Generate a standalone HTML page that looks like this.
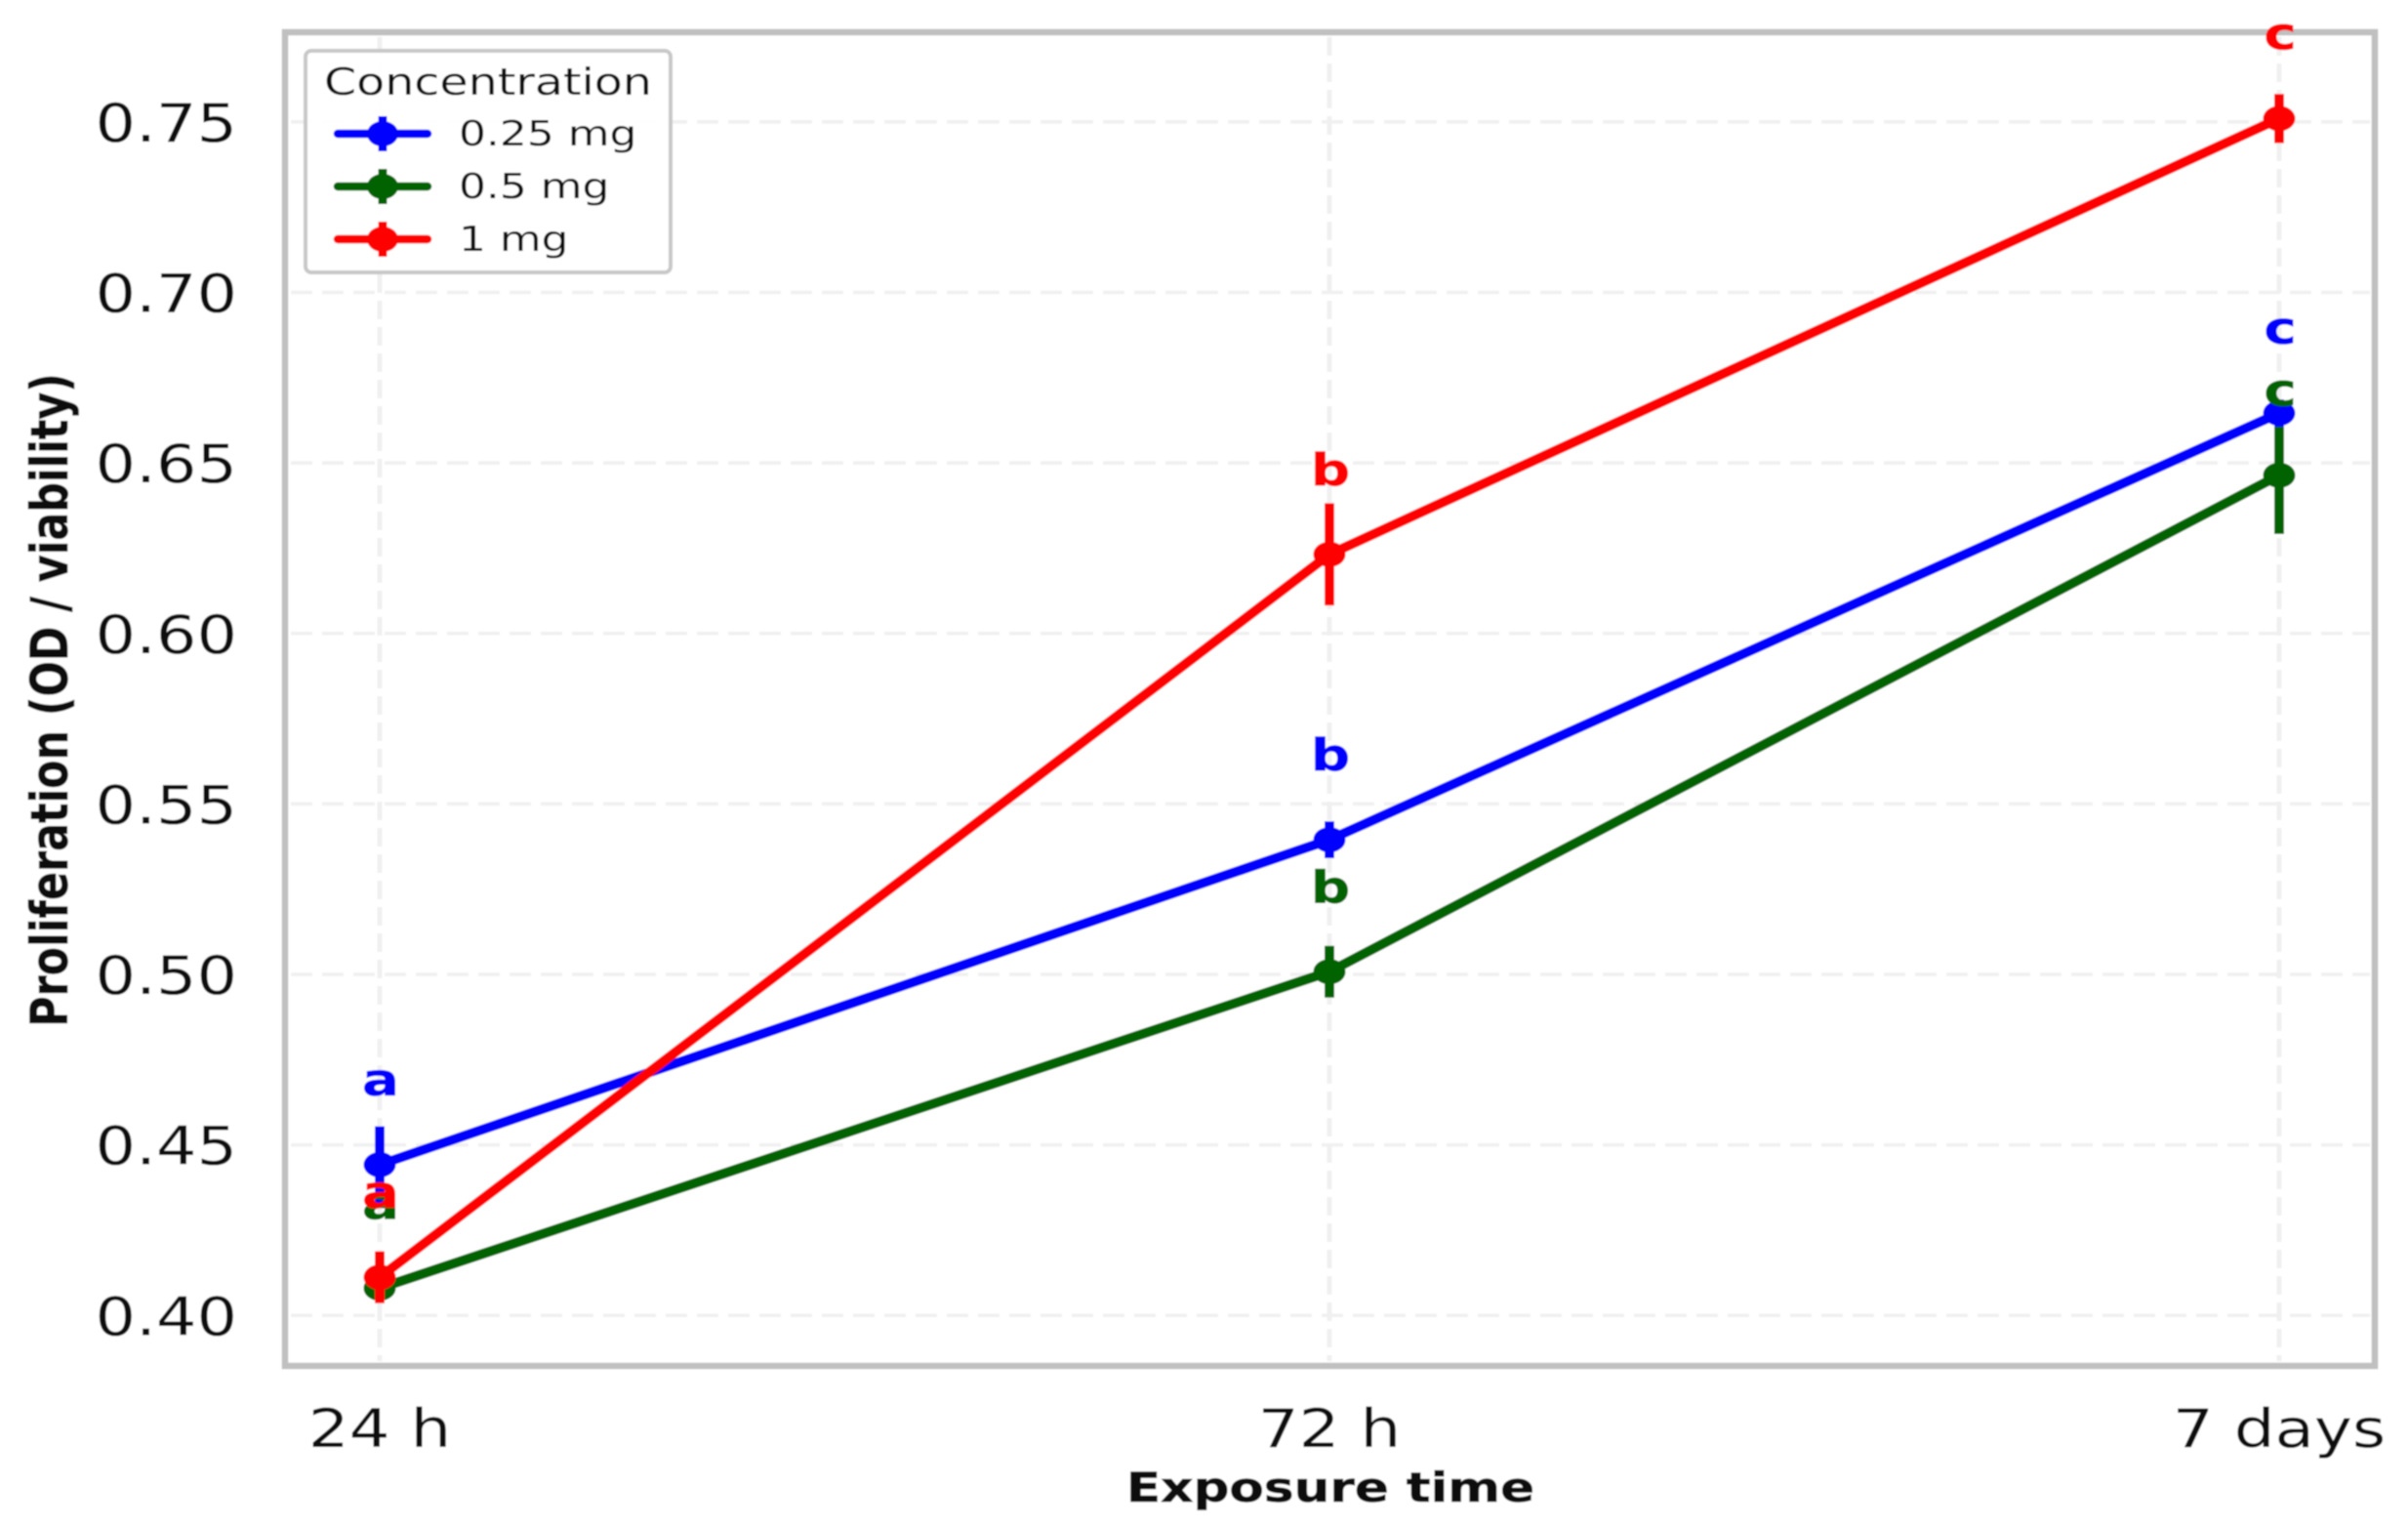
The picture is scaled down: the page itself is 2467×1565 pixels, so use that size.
<!DOCTYPE html>
<html lang="en">
<head>
<meta charset="utf-8">
<title>Proliferation vs exposure time</title>
<style>
html,body{margin:0;padding:0;background:#fff;width:2467px;height:1565px;overflow:hidden}
svg{display:block}
text{font-family:"DejaVu Sans","Liberation Sans",sans-serif}
</style>
</head>
<body>
<svg id="chart" xmlns="http://www.w3.org/2000/svg" width="2467" height="1565" viewBox="0 0 2467 1565">
  <defs><filter id="soft" x="0" y="0" width="100%" height="100%"><feGaussianBlur stdDeviation="0.7"/></filter></defs>
  <g id="root" filter="url(#soft)">
    <rect x="0" y="0" width="2467" height="1565" fill="#ffffff"/>
    <g id="grid"></g>
    <g id="series"></g>
    <rect x="292" y="33" width="2141" height="1366" fill="none" stroke="#c0c0c0" stroke-width="6.5"/>
    <g id="labels"></g>
    <g id="ticks"></g>
    <text transform="translate(1363,1538) scale(1.23,1)" text-anchor="middle" font-size="42" font-weight="bold" fill="#111" stroke="#111" stroke-width="0.6">Exposure time</text>
    <text transform="translate(69,717) scale(1.22,1) rotate(-90)" text-anchor="middle" font-size="42.8" font-weight="bold" fill="#111" stroke="#111" stroke-width="0.5">Proliferation (OD / viability)</text>
    <g>
      <rect x="313" y="52" width="374" height="227" rx="6" fill="#ffffff" fill-opacity="0.92" stroke="#c8c8c8" stroke-width="4"/>
      <text transform="translate(332,97) scale(1.25,1)" font-size="38" fill="#111">Concentration</text>
      <g>
        <line x1="346" y1="137" x2="438" y2="137" stroke="#0000ff" stroke-width="8.5" stroke-linecap="round"/>
        <line x1="392" y1="119" x2="392" y2="155" stroke="#0000ff" stroke-width="9"/>
        <ellipse cx="392" cy="137" rx="16" ry="13" fill="#0000ff"/>
        <text transform="translate(470,149) scale(1.22,1)" font-size="36" fill="#111">0.25 mg</text>
      </g>
      <g>
        <line x1="346" y1="191" x2="438" y2="191" stroke="#006400" stroke-width="8.5" stroke-linecap="round"/>
        <line x1="392" y1="173" x2="392" y2="209" stroke="#006400" stroke-width="9"/>
        <ellipse cx="392" cy="191" rx="16" ry="13" fill="#006400"/>
        <text transform="translate(470,203) scale(1.22,1)" font-size="36" fill="#111">0.5 mg</text>
      </g>
      <g>
        <line x1="346" y1="245" x2="438" y2="245" stroke="#ff0000" stroke-width="8.5" stroke-linecap="round"/>
        <line x1="392" y1="227" x2="392" y2="263" stroke="#ff0000" stroke-width="9"/>
        <ellipse cx="392" cy="245" rx="16" ry="13" fill="#ff0000"/>
        <text transform="translate(470,257) scale(1.22,1)" font-size="36" fill="#111">1 mg</text>
      </g>
    </g>
  </g>
</svg>
<script>
const categories = ['24 h', '72 h', '7 days'];
const yTicks = [0.40, 0.45, 0.50, 0.55, 0.60, 0.65, 0.70, 0.75];
const means025 = [0.4442, 0.5395, 0.6646];
const errors025 = [0.0113, 0.0054, 0.0040];
const letters025 = ['a', 'b', 'c'];
const means05 = [0.4080, 0.5008, 0.6464];
const errors05 = [0.0040, 0.0076, 0.0172];
const letters05 = ['a', 'b', 'c'];
const means1 = [0.4112, 0.6232, 0.7510];
const errors1 = [0.0076, 0.0150, 0.0072];
const letters1 = ['a', 'b', 'c'];
const seriesNames = ['0-25-mg', '0-5-mg', '1-mg'];
const seriesColors = ['#0000ff', '#006400', '#ff0000'];

const NS = 'http://www.w3.org/2000/svg';
function xAxis(i) { return 389 + i * 973; }
function yAxis(v) { return 1347.3 - (v - 0.4) * 3492.5; }
function make(tag, attrs, parent) {
  const el = document.createElementNS(NS, tag);
  for (const k in attrs) el.setAttribute(k, attrs[k]);
  parent.appendChild(el);
  return el;
}
const gridG = document.getElementById('grid');
const ticksG = document.getElementById('ticks');
const seriesG = document.getElementById('series');
const labelsG = document.getElementById('labels');

yTicks.forEach(function (t) {
  const g = make('line', {x1: 298, x2: 2428, y1: yAxis(t), y2: yAxis(t), stroke: '#f0f0f0', 'stroke-width': 3.5, 'stroke-dasharray': '22 10'}, gridG);
  
  
  const l = make('text', {'text-anchor': 'end', 'font-size': 54, fill: '#111', transform: 'translate(243,' + (yAxis(t) + 20) + ') scale(1.21,1)'}, ticksG);
  l.textContent = t.toFixed(2);
  
  
});
categories.forEach(function (c, i) {
  const g = make('line', {x1: xAxis(i), x2: xAxis(i), y1: 38, y2: 1394, stroke: '#f0f0f0', 'stroke-width': 5, 'stroke-dasharray': '19 8'}, gridG);
  
  
  const l = make('text', {'text-anchor': 'middle', 'font-size': 54, fill: '#111', transform: 'translate(' + xAxis(i) + ',1482) scale(1.22,1)'}, ticksG);
  l.textContent = c;
  
  
});

function drawSeries(means, errors, letters, idx) {
  const color = seriesColors[idx];
  const group = make('g', {}, seriesG);
  
  
  const pts = means.map(function (m, i) { return xAxis(i) + ',' + yAxis(m); }).join(' ');
  const line = make('polyline', {points: pts, fill: 'none', stroke: color, 'stroke-width': 10, 'stroke-linejoin': 'round'}, group);
  
  
  means.forEach(function (m, i) {
    const bar = make('line', {x1: xAxis(i), x2: xAxis(i), y1: yAxis(m - errors[i]), y2: yAxis(m + errors[i]), stroke: color, 'stroke-width': 10}, group);
    
    
    const dot = make('ellipse', {cx: xAxis(i), cy: yAxis(m), rx: 16.5, ry: 13, fill: color}, group);
    
    
    const letter = make('text', {'text-anchor': 'middle', 'font-size': 45, 'font-weight': 'bold', fill: color, stroke: color, 'stroke-width': 0.6, transform: 'translate(' + (xAxis(i) + 1) + ',' + (yAxis(m) - 71) + ') scale(1.25,1)'}, labelsG);
    letter.textContent = letters[i];
    
    
  });
}
drawSeries(means05, errors05, letters05, 1);
drawSeries(means025, errors025, letters025, 0);
drawSeries(means1, errors1, letters1, 2);

/* letter stacking: blue, green, red */
const all = Array.from(labelsG.children);
const n = categories.length;
const ordered = all.slice(n, 2 * n).concat(all.slice(0, n), all.slice(2 * n));
ordered.forEach(function (el) { labelsG.appendChild(el); });
</script>
</body>
</html>
